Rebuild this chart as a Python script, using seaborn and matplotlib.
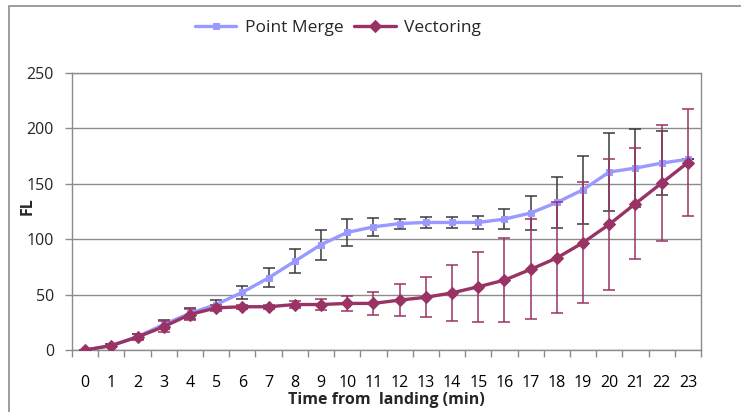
import numpy as np
import pandas as pd
import matplotlib
matplotlib.use("Agg")
import matplotlib.pyplot as plt
from matplotlib.patches import Rectangle
import seaborn as sns

minutes = list(range(24))
tick_labels = [str(m) for m in minutes]
point_merge = [0, 4, 12, 23, 33, 41, 52, 65, 80, 95, 106, 111, 114, 115, 115, 115,
               118, 123.5, 133, 144.5, 160.5, 164, 168.5, 172]
point_merge_err = [0, 1, 2, 4, 5, 4, 6, 8.5, 11, 13.5, 12.5, 8, 4.5, 5, 5, 5.5,
                   9, 15.5, 23, 30.5, 35, 35, 28.5, 0]
vectoring = [0, 4, 11.7, 21, 32, 38, 39, 39, 41, 41, 42, 42, 45, 47.5, 51.5, 57,
             63, 72.7, 83, 96.8, 113.3, 132, 150.5, 169]
vectoring_err = [0, 1.5, 3, 5, 5, 3, 2, 2, 3, 5, 6.5, 10.4, 14.5, 18, 25, 31.7,
                 38, 45, 50, 54.6, 59, 50, 52, 48.5]
series_names = ["Point Merge", "Vectoring"]

W, H = 741, 412
sns.set_theme(style="white")
plt.rcParams["font.family"] = ["Open Sans", "DejaVu Sans"]

fig = plt.figure(figsize=(W / 100, H / 100), dpi=100)
ax = fig.add_axes([72 / W, 1 - 350 / H, (701 - 72) / W, (350 - 72.7) / H])

pm_color = "#9999FF"
v_color = "#993366"
grid_color = "#8C8C8C"
fs = 11.5

df = pd.DataFrame({
    "minute": minutes * 2,
    "FL": point_merge + vectoring,
    "series": [series_names[0]] * 24 + [series_names[1]] * 24,
})

ax.errorbar(minutes, point_merge, yerr=point_merge_err, fmt="none", ecolor="#3a3a3a",
            elinewidth=1.1, capsize=4.5, capthick=1.1, zorder=2)
sns.lineplot(data=df[df.series == series_names[0]], x="minute", y="FL", ax=ax,
             color=pm_color, linewidth=2.4, marker="s", markersize=5,
             markeredgecolor=pm_color, label=series_names[0], zorder=3)
ax.errorbar(minutes, vectoring, yerr=vectoring_err, fmt="none", ecolor=v_color,
            elinewidth=1.1, capsize=4.5, capthick=1.1, zorder=4)
sns.lineplot(data=df[df.series == series_names[1]], x="minute", y="FL", ax=ax,
             color=v_color, linewidth=2.4, marker="D", markersize=6,
             markeredgecolor=v_color, label=series_names[1], zorder=5)

ax.set_xlim(-0.5, 23.5)
ax.set_ylim(0, 250)
ax.set_yticks([0, 50, 100, 150, 200, 250])
ax.set_xticks(minutes)
ax.set_xticklabels(tick_labels)
ax.set_xticks(np.arange(-0.5, 24, 1), minor=True)
ax.tick_params(axis="x", which="major", length=0, pad=18, labelsize=fs, colors="black")
ax.tick_params(axis="x", which="minor", length=5, width=1, color=grid_color, direction="out", bottom=True)
ax.tick_params(axis="y", which="major", length=5, width=1, color=grid_color, direction="out",
               pad=8, labelsize=fs, left=True)
ax.yaxis.grid(True, color=grid_color, linewidth=1)
ax.xaxis.grid(False)
ax.set_axisbelow(True)
for s in ax.spines.values():
    s.set_color(grid_color)
    s.set_linewidth(1)

ax.set_xlabel("Time from  landing (min)", fontsize=fs, fontweight="bold", labelpad=0)
ax.xaxis.set_label_coords(0.5, -0.153)
ax.set_ylabel("FL", fontsize=fs, fontweight="bold")
ax.yaxis.set_label_coords(-0.058, 0.52)

ax.get_legend().remove()
handles, labels = ax.get_legend_handles_labels()
fig.legend(handles, labels, loc="center", bbox_to_anchor=(338 / W, 1 - 28 / H),
           ncol=2, frameon=False, fontsize=12.5, handlelength=2.4, columnspacing=0.6,
           handletextpad=0.5)

fig.add_artist(Rectangle((9 / W, -0.1), 1.2, 1.1 - 6 / H, transform=fig.transFigure,
                         fill=False, edgecolor=grid_color, linewidth=1.2))

fig.savefig("out.png", dpi=100)
